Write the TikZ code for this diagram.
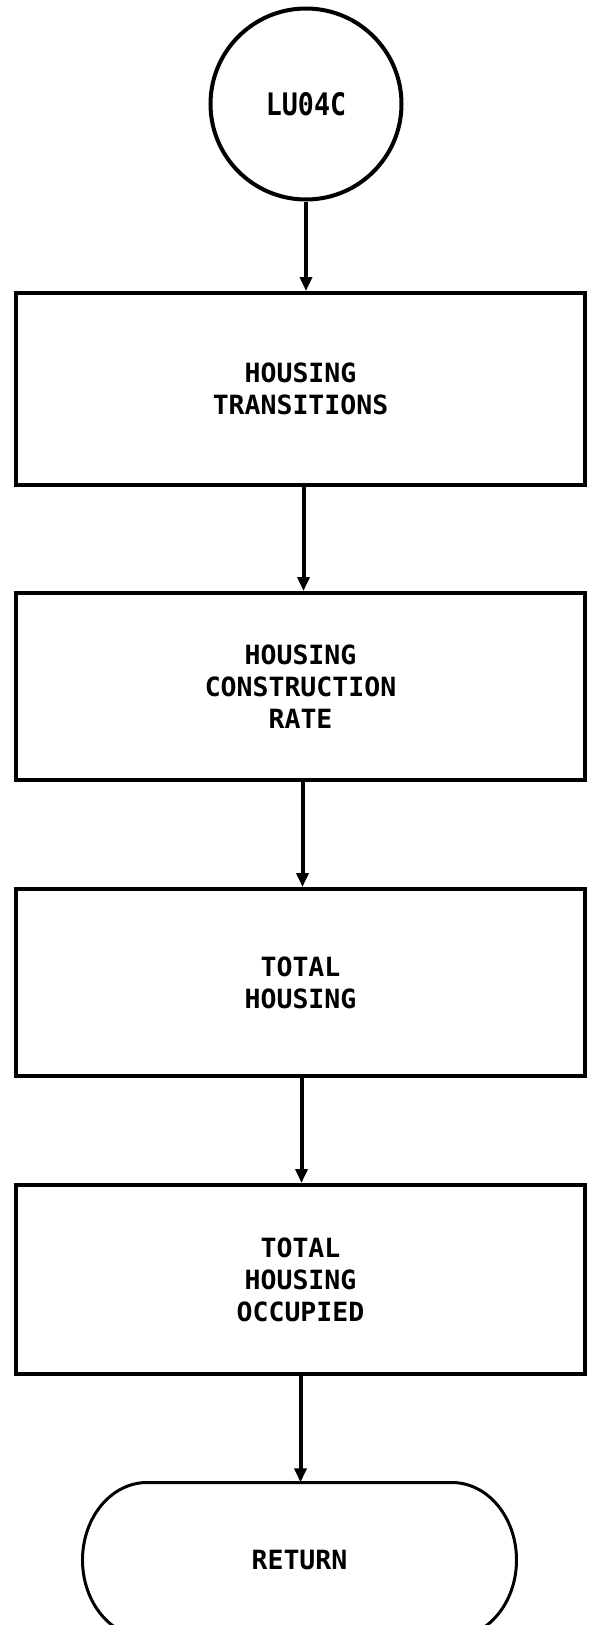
\documentclass[tikz,border=0pt]{standalone}
\usepackage{fontspec}
\setmonofont{DejaVu Sans Mono}
\newfontfamily\entryfont[FakeStretch=0.86]{DejaVu Sans Mono}
\usetikzlibrary{arrows.meta}

\begin{document}
\begin{tikzpicture}[
  x=1pt, y=-1pt,
  >={Triangle[length=14pt, width=12pt]},
  every node/.style={font=\ttfamily\bfseries\fontsize{26.5}{32}\selectfont, align=center},
  procbox/.style={draw, line width=4pt, minimum width=569pt, inner sep=0pt},
  flow/.style={->, line width=4pt},
]

% Page frame
\useasboundingbox (0,0) rectangle (599,1625);

% Entry connector
\node[draw, circle, line width=4pt, minimum size=191pt, inner sep=0pt,
  font=\entryfont\bfseries\fontsize{31}{33}\selectfont] (entry) at (306,104) {LU04C};

% Process boxes
\node[procbox, minimum height=192pt] (trans)  at (300.5,389)    {HOUSING\\TRANSITIONS};
\node[procbox, minimum height=187pt] (constr) at (300.5,686.5)  {HOUSING\\CONSTRUCTION\\RATE};
\node[procbox, minimum height=187pt] (total)  at (300.5,982.5)  {TOTAL\\HOUSING};
\node[procbox, minimum height=189pt] (occup)  at (300.5,1279.5) {TOTAL\\HOUSING\\OCCUPIED};

% Terminal (ends are flattened half-ellipses)
\node[minimum width=434pt, minimum height=155pt, inner sep=0pt] (ret) at (299.5,1560) {RETURN};
\draw[line width=3pt]
  (147,1482.5) -- (452,1482.5)
  arc[start angle=-90, end angle=90, x radius=64.5, y radius=77.5]
  -- (147,1637.5)
  arc[start angle=90, end angle=270, x radius=64.5, y radius=77.5]
  -- cycle;

% Flow lines
\draw[flow] (entry.south) -- (entry.south |- trans.north);
\draw[flow] ([xshift=3pt]trans.south) -- ([xshift=3pt]constr.north);
\draw[flow] ([xshift=2pt]constr.south) -- ([xshift=2pt]total.north);
\draw[flow] ([xshift=1pt]total.south) -- ([xshift=1pt]occup.north);
\draw[flow] (occup.south) -- (occup.south |- ret.north);

\end{tikzpicture}
\end{document}
